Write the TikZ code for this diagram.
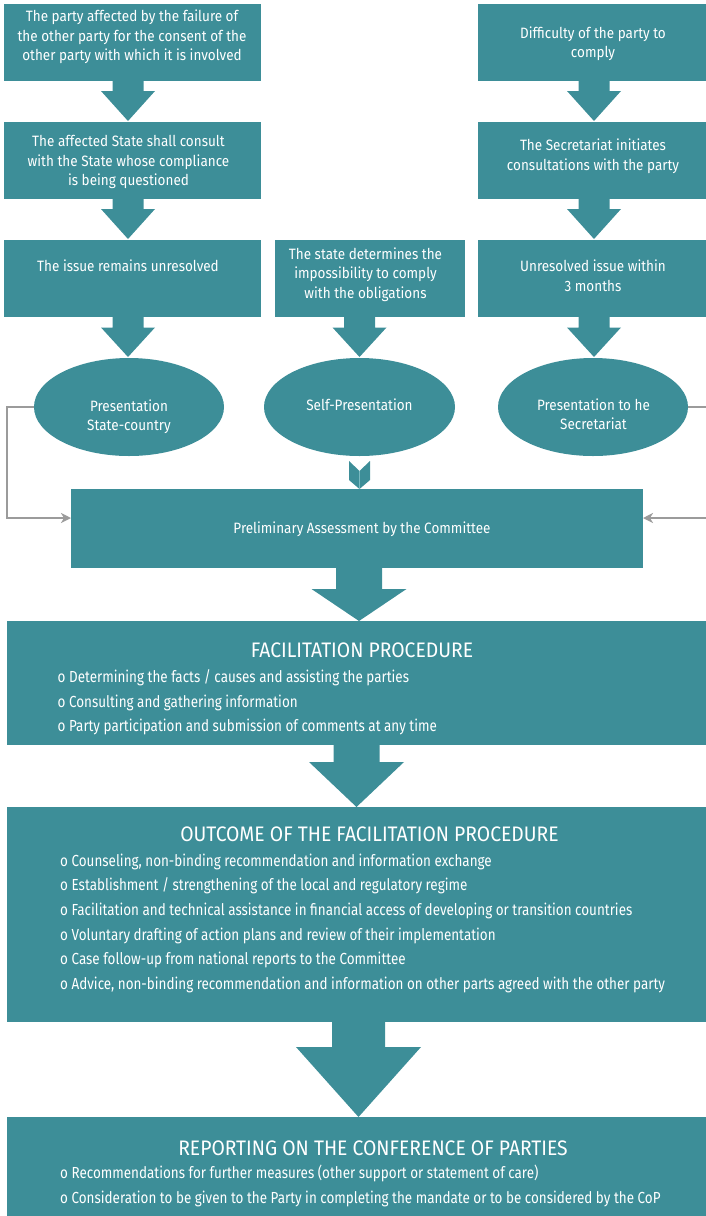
\documentclass[tikz,border=0pt]{standalone}
\usepackage{fontspec}
\setmainfont{Fira Sans}[FakeStretch=0.84]
\newfontfamily\topfont{Fira Sans}[FakeStretch=0.90]
\newfontfamily\titlefont{Fira Sans}[FakeStretch=0.92]
\usetikzlibrary{arrows.meta,calc,shapes.geometric}
\definecolor{tealbox}{RGB}{61,142,152}
\definecolor{conngray}{RGB}{155,155,155}
\definecolor{chevline}{RGB}{120,185,192}
\newcommand{\blockarrow}[6]{%
  \fill[tealbox] ({#1-#5},#2) -- ({#1+#5},#2) -- ({#1+#5},#3) -- ({#1+#6},#3) -- (#1,#4) -- ({#1-#6},#3) -- ({#1-#5},#3) -- cycle;}
\tikzset{
  box/.style={fill=tealbox, draw=none, inner sep=0pt, outer sep=0pt, anchor=north west},
  oval/.style={ellipse, fill=tealbox, draw=none, inner sep=0pt, outer sep=0pt, minimum width=190pt, minimum height=98pt},
  smalltext/.style={text=white, inner sep=0pt, align=center, font=\topfont\fontsize{15}{19.5}\selectfont},
  bullettext/.style={text=white, inner sep=0pt, align=left, anchor=west, font=\fontsize{16}{24.6}\selectfont},
  titletext/.style={text=white, inner sep=0pt, font=\titlefont\fontsize{21}{24}\selectfont},
  conn/.style={draw=conngray, line width=2pt, -{Stealth[length=10pt,width=10pt,inset=3pt]}}
}
\begin{document}
\begin{tikzpicture}[x=1pt,y=-1pt]
\useasboundingbox (0,0) rectangle (706,1216);

% left column
\node[box, minimum width=257pt, minimum height=77pt] (l1) at (4,4) {};
\node[box, minimum width=257pt, minimum height=77pt] (l2) at (4,122) {};
\node[box, minimum width=257pt, minimum height=77pt] (l3) at (4,240) {};
% middle
\node[box, minimum width=190pt, minimum height=77pt] (m3) at (275,240) {};
% right column
\node[box, minimum width=232pt, minimum height=77pt] (r1) at (478,4) {};
\node[box, minimum width=232pt, minimum height=77pt] (r2) at (478,122) {};
\node[box, minimum width=232pt, minimum height=77pt] (r3) at (478,240) {};

\node[smalltext] (tl1) at (132,37) {The party affected by the failure of\\the other party for the consent of the\\other party with which it is involved};
\node[smalltext] (tl2) at (128.5,162) {The affected State shall consult\\with the State whose compliance\\is being questioned};
\node[smalltext] (tl3) at (128,266) {The issue remains unresolved};
\node[smalltext] (tm3) at (365.5,274.5) {The state determines the\\impossibility to comply\\with the obligations};
\node[smalltext] (tr1) at (593,43.5) {Difficulty of the party to\\comply};
\node[smalltext] (tr2) at (593,156) {The Secretariat initiates\\consultations with the party};
\node[smalltext] (tr3) at (593,275.5) {Unresolved issue within\\3 months};

% block arrows top
\blockarrow{128}{81}{91}{121}{15.5}{27}
\blockarrow{128}{199}{209}{239}{15.5}{27}
\blockarrow{128}{317}{327.5}{357}{15.5}{27}
\blockarrow{594}{81}{91}{121}{15.5}{27}
\blockarrow{594}{199}{209}{239}{15.5}{27}
\blockarrow{594}{317}{327.5}{357}{15.5}{27}
\blockarrow{359.5}{317}{327.5}{357}{15.5}{27}

% ellipses
\node[oval] (e1) at (129,407) {};
\node[oval, minimum width=191pt] (e2) at (359.5,407) {};
\node[oval] (e3) at (593,407) {};
\node[smalltext] (te1) at (129,416.5) {Presentation\\State-country};
\node[smalltext] (te2) at (359.5,405) {Self-Presentation};
\node[smalltext] (te3) at (593.5,414) {Presentation to he\\Secretariat};

% preliminary
\node[box, minimum width=572pt, minimum height=79pt] (pre) at (71,489) {};
\node[smalltext] (tpre) at (362,529) {Preliminary Assessment by the Committee};

% chevron
\fill[tealbox] (349,461) -- (359.5,471) -- (370,461) -- (370,480) -- (359.5,489) -- (349,480) -- cycle;
\draw[chevline, line width=0.6pt] (359.5,471) -- (359.5,489);

% gray connectors
\draw[conn] (e1.west) -- (6.5,407) |- ([yshift=10.5pt]pre.west);
\draw[conn] (e3.east) -- (709,407) |- ([yshift=10.5pt]pre.east);

% arrow to facilitation
\blockarrow{359}{568}{589}{621}{23}{47.5}

% facilitation
\node[box, minimum width=702pt, minimum height=124pt] (fac) at (7,621) {};
\node[titletext] (tfac) at (362,650) {FACILITATION PROCEDURE};
\node[bullettext] (bfac) at (57.5,702.5) {o Determining the facts / causes and assisting the parties\\o Consulting and gathering information\\o Party participation and submission of comments at any time};

\blockarrow{356.5}{745}{762}{807}{23}{47.5}

% outcome
\node[box, minimum width=702pt, minimum height=215pt] (out) at (7,807) {};
\node[titletext] (tout) at (369.5,834) {OUTCOME OF THE FACILITATION PROCEDURE};
\node[bullettext] (bout) at (60,923.3) {o Counseling, non-binding recommendation and information exchange\\o Establishment / strengthening of the local and regulatory regime\\o Facilitation and technical assistance in financial access of developing or transition countries\\o Voluntary drafting of action plans and review of their implementation\\o Case follow-up from national reports to the Committee\\o Advice, non-binding recommendation and information on other parts agreed with the other party};

\blockarrow{358.5}{1022}{1047}{1117}{26.5}{62.5}

% reporting
\node[box, minimum width=702pt, minimum height=102pt] (rep) at (7,1117) {};
\node[titletext] (trep) at (373,1148) {REPORTING ON THE CONFERENCE OF PARTIES};
\node[bullettext] (brep) at (60,1186) {o Recommendations for further measures (other support or statement of care)\\o Consideration to be given to the Party in completing the mandate or to be considered by the CoP};
\end{tikzpicture}
\end{document}
